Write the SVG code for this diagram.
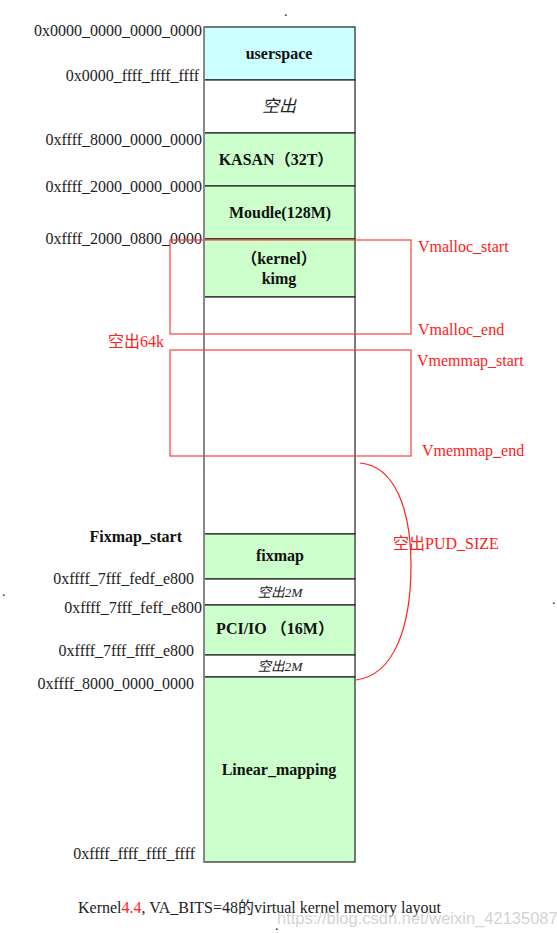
<svg xmlns="http://www.w3.org/2000/svg" width="557" height="933" viewBox="0 0 557 933">
<style>
.addr{font-family:"Liberation Serif","Noto Sans CJK SC",serif;font-size:16px;fill:#222;text-anchor:end}
.lbl{font-family:"Liberation Serif","Noto Sans CJK SC",serif;font-size:16px;font-weight:bold;fill:#111;text-anchor:middle}
.gap{font-family:"Liberation Serif","Noto Sans CJK SC",serif;font-style:italic;fill:#222;text-anchor:middle}
.red{font-family:"Liberation Serif","Noto Sans CJK SC",serif;font-size:16px;fill:#ff2020}
.box{stroke:#222;stroke-width:1.2}
.user{fill:#ccffff}
.grn{fill:#ccffcc}
.wht{fill:#ffffff}
.rbox{fill:none;stroke:#ff4040;stroke-width:1.2}
.dot{font-family:"Liberation Serif",serif;font-size:14px;fill:#222}
</style>
<rect width="557" height="933" fill="#ffffff"/>

<g id="node-userspace"><rect class="box user" x="204" y="27" width="151" height="53"/><text class="lbl" x="279" y="59">userspace</text></g>
<g id="node-gap1"><rect class="box wht" x="204" y="80" width="151" height="53"/><text class="gap" x="279" y="112" font-size="17">空出</text></g>
<g id="node-kasan"><rect class="box grn" x="204" y="133" width="151" height="53"/><text class="lbl" x="276" y="165">KASAN（32T）</text></g>
<g id="node-module"><rect class="box grn" x="204" y="186" width="151" height="53"/><text class="lbl" x="280" y="218">Moudle(128M)</text></g>
<g id="node-kimg"><rect class="box grn" x="204" y="239" width="151" height="58"/><text class="lbl" x="279" y="264">（kernel）</text><text class="lbl" x="279" y="284">kimg</text></g>
<g id="node-vmalloc-vmemmap"><rect class="box wht" x="204" y="297" width="151" height="237"/></g>
<g id="node-fixmap"><rect class="box grn" x="204" y="534" width="151" height="45"/><text class="lbl" x="280" y="561">fixmap</text></g>
<g id="node-gap2a"><rect class="box wht" x="204" y="579" width="151" height="26"/><text class="gap" x="280" y="597" font-size="13.5">空出2M</text></g>
<g id="node-pci"><rect class="box grn" x="204" y="605" width="151" height="50"/><text class="lbl" x="275" y="634">PCI/IO （16M）</text></g>
<g id="node-gap2b"><rect class="box wht" x="204" y="655" width="151" height="22"/><text class="gap" x="280" y="671" font-size="13.5">空出2M</text></g>
<g id="node-linear"><rect class="box grn" x="204" y="677" width="151" height="185"/><text class="lbl" x="279" y="775">Linear_mapping</text></g>
<line x1="204" y1="27" x2="204" y2="862" stroke="#888" stroke-width="2"/>

<g id="addresses">
<text class="addr" x="202" y="36">0x0000_0000_0000_0000</text>
<text class="addr" x="199" y="81">0x0000_ffff_ffff_ffff</text>
<text class="addr" x="202" y="145">0xffff_8000_0000_0000</text>
<text class="addr" x="202" y="192">0xffff_2000_0000_0000</text>
<text class="addr" x="202" y="244">0xffff_2000_0800_0000</text>
<text x="182" y="542" style="font-family:'Liberation Serif',serif;font-size:16px;font-weight:bold;fill:#111;text-anchor:end">Fixmap_start</text>
<text class="addr" x="194" y="584">0xffff_7fff_fedf_e800</text>
<text class="addr" x="202" y="613">0xffff_7fff_feff_e800</text>
<text class="addr" x="194" y="656">0xffff_7fff_ffff_e800</text>
<text class="addr" x="194" y="689">0xffff_8000_0000_0000</text>
<text class="addr" x="195" y="859">0xffff_ffff_ffff_ffff</text>
</g>

<g id="connectors">
<rect class="rbox" x="170" y="240" width="241" height="94"/>
<rect class="rbox" x="170" y="350" width="241" height="106"/>
<path d="M360,463 C395,466 411,510 411,565 C411,625 395,675 356,680" fill="none" stroke="#ff2020" stroke-width="1.2"/>
</g>

<g id="annotations">
<text class="red" x="418" y="252">Vmalloc_start</text>
<text class="red" x="418" y="335">Vmalloc_end</text>
<text class="red" x="417" y="366">Vmemmap_start</text>
<text class="red" x="422" y="456">Vmemmap_end</text>
<text class="red" x="108" y="347">空出64k</text>
<text class="red" x="393" y="549">空出PUD_SIZE</text>
</g>

<g id="caption">
<text x="78" y="913" style="font-family:'Liberation Serif','Noto Sans CJK SC',serif;font-size:16px;fill:#222">Kernel<tspan fill="#ff2020">4.4</tspan>, VA_BITS=48的virtual kernel memory layout</text>
<text x="277" y="924" style="font-family:'Liberation Sans',sans-serif;font-size:16.5px;fill:#c8c8c8;fill-opacity:0.8">https://blog.csdn.net/weixin_42135087</text>
</g>

<text class="dot" x="284" y="16">.</text>
<text class="dot" x="2" y="596">.</text>
<text class="dot" x="552" y="604">.</text>
<text class="dot" x="275" y="930">.</text>
</svg>
